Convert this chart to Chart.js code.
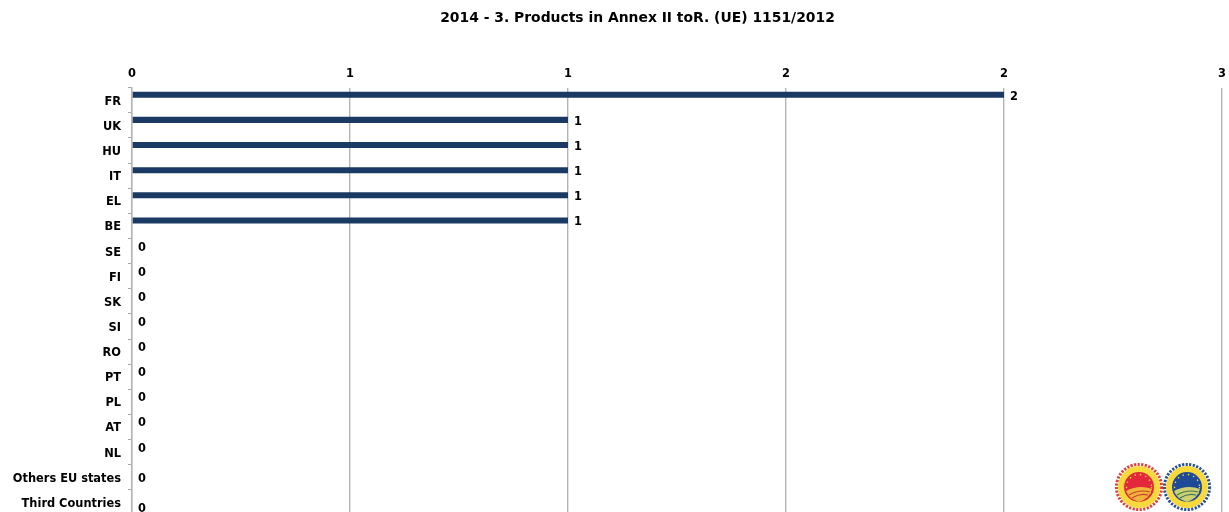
<!DOCTYPE html>
<html>
<head>
<meta charset="utf-8">
<style>
    html, body { margin: 0; padding: 0; background: #fff; overflow: hidden; height: 512px; }
    #wrap { position: relative; width: 1229px; height: 530px; }
    #logos { position: absolute; left: 1112px; top: 462px; }
</style>
</head>
<body>
<div id="wrap">
    <canvas id="myChart" width="1229" height="530"></canvas>
    <svg id="logos" width="102" height="50" viewBox="0 0 102 50">
        <circle cx="27" cy="25" r="22.6" fill="none" stroke="#e0403c" stroke-width="3" stroke-dasharray="2.2 1.4"/>
        <circle cx="27" cy="25" r="21" fill="#f8d93c"/>
        <circle cx="27" cy="25" r="15" fill="#e2283a"/>
        <circle cx="27" cy="25" r="12.5" fill="none" stroke="#f8d93c" stroke-width="1.4" stroke-dasharray="1.4 4"/>
        <path d="M14 29 Q27 22 40 27 Q37 37 27 40 Q17 37 14 29Z" fill="#f2b53c"/>
        <path d="M17 33 Q27 27 38 30 M20 36 Q28 31 36 33" fill="none" stroke="#c8402c" stroke-width="1.2"/>
        <circle cx="75" cy="25" r="22.6" fill="none" stroke="#28509a" stroke-width="3" stroke-dasharray="2.2 1.4"/>
        <circle cx="75" cy="25" r="21" fill="#f8d93c"/>
        <circle cx="75" cy="25" r="15" fill="#1f4a96"/>
        <circle cx="75" cy="25" r="12.5" fill="none" stroke="#f8d93c" stroke-width="1.4" stroke-dasharray="1.4 4"/>
        <path d="M62 29 Q75 22 88 27 Q85 37 75 40 Q65 37 62 29Z" fill="#cfd070"/>
        <path d="M65 33 Q75 27 86 30 M68 36 Q76 31 84 33" fill="none" stroke="#3f7a5a" stroke-width="1.2"/>
    </svg>
</div>
<script src="https://cdn.jsdelivr.net/npm/chart.js@4"></script>
<script>
'use strict';

const chartTitle = '2014 - 3. Products in Annex II toR. (UE) 1151/2012';
const countries = ['FR', 'UK', 'HU', 'IT', 'EL', 'BE', 'SE', 'FI', 'SK', 'SI', 'RO', 'PT', 'PL', 'AT', 'NL', 'Others EU states', 'Third Countries'];
const products = [2, 1, 1, 1, 1, 1, 0, 0, 0, 0, 0, 0, 0, 0, 0, 0, 0];
const emptySeries = countries.map(() => null); // second series has no values, keeps the bars in the upper half of the row
const axisMax = 2.5;
const axisStep = 0.5;

const fontFamily = '"DejaVu Sans"';

// value labels next to the bars
const valueLabels = {
    id: 'valueLabels',
    afterLayout(chart) {
        // title is not centred on the canvas in the original
        if (chart.titleBlock && !chart.titleBlock._moved) {
            chart.titleBlock.left += 26.5;
            chart.titleBlock.right += 26.5;
            chart.titleBlock._moved = true;
        }
    },
    afterDatasetsDraw(chart) {
        const ctx = chart.ctx;
        const bars = chart.getDatasetMeta(0).data;
        ctx.save();
        ctx.font = 'bold 11.4px ' + fontFamily;
        ctx.fillStyle = '#000';
        ctx.textAlign = 'left';
        ctx.textBaseline = 'middle';
        bars.forEach((bar, i) => {
            let shift = 2;
            if (countries[i] === 'Others EU states') shift = 7;
            if (countries[i] === 'Third Countries') shift = 12;
            ctx.fillText(products[i], bar.x + 6, bar.y + shift);
        });
        ctx.restore();
    }
};

const chartConfig = {
    type: 'bar',
    data: {
        labels: countries,
        datasets: [
            { label: 'Products', data: products, backgroundColor: '#1b3a63', categoryPercentage: 0.876, barPercentage: 0.55 },
            { label: 'Empty', data: emptySeries, backgroundColor: '#1b3a63', categoryPercentage: 0.876, barPercentage: 0.55 }
        ]
    },
    options: {
        indexAxis: 'y',
        responsive: false,
        animation: false,
        layout: { padding: { left: 0, right: 7, top: 0, bottom: 15 } },
        plugins: {
            legend: { display: false },
            tooltip: { enabled: false },
            title: {
                display: true,
                text: chartTitle,
                color: '#000',
                font: { family: 'DejaVu Sans', size: 13.9, weight: 'bold' },
                padding: { top: 10, bottom: 0 }
            }
        },
        scales: {
            x: {
                position: 'top',
                min: 0,
                max: axisMax,
                afterFit(scale) {
                    scale.height = 61;
                    scale.paddingLeft = 0;
                    scale.paddingRight = 0; // tick padding would otherwise eat into the right margin
                },
                ticks: {
                    stepSize: axisStep,
                    color: '#000',
                    font: { family: 'DejaVu Sans', size: 11.4, weight: 'bold' },
                    maxRotation: 0,
                    padding: 7,
                    callback: value => Math.round(value + 0.001)
                },
                grid: { color: '#b4b4b4', lineWidth: 1.4, drawTicks: false },
                border: { display: false }
            },
            y: {
                afterFit(scale) { scale.width = 132; },
                ticks: {
                    color: '#000',
                    font: { family: 'DejaVu Sans', size: 11.4, weight: 'bold' },
                    padding: 7,
                    labelOffset: 1.5,
                    autoSkip: false
                },
                grid: { drawOnChartArea: false, color: '#a8a8a8', tickLength: 4 },
                border: { color: '#b4b4b4', width: 1.4 }
            }
        }
    },
    plugins: [valueLabels]
};

let ctx = document.getElementById('myChart').getContext('2d');
let chart = new Chart(ctx, chartConfig);
</script>
</body>
</html>
